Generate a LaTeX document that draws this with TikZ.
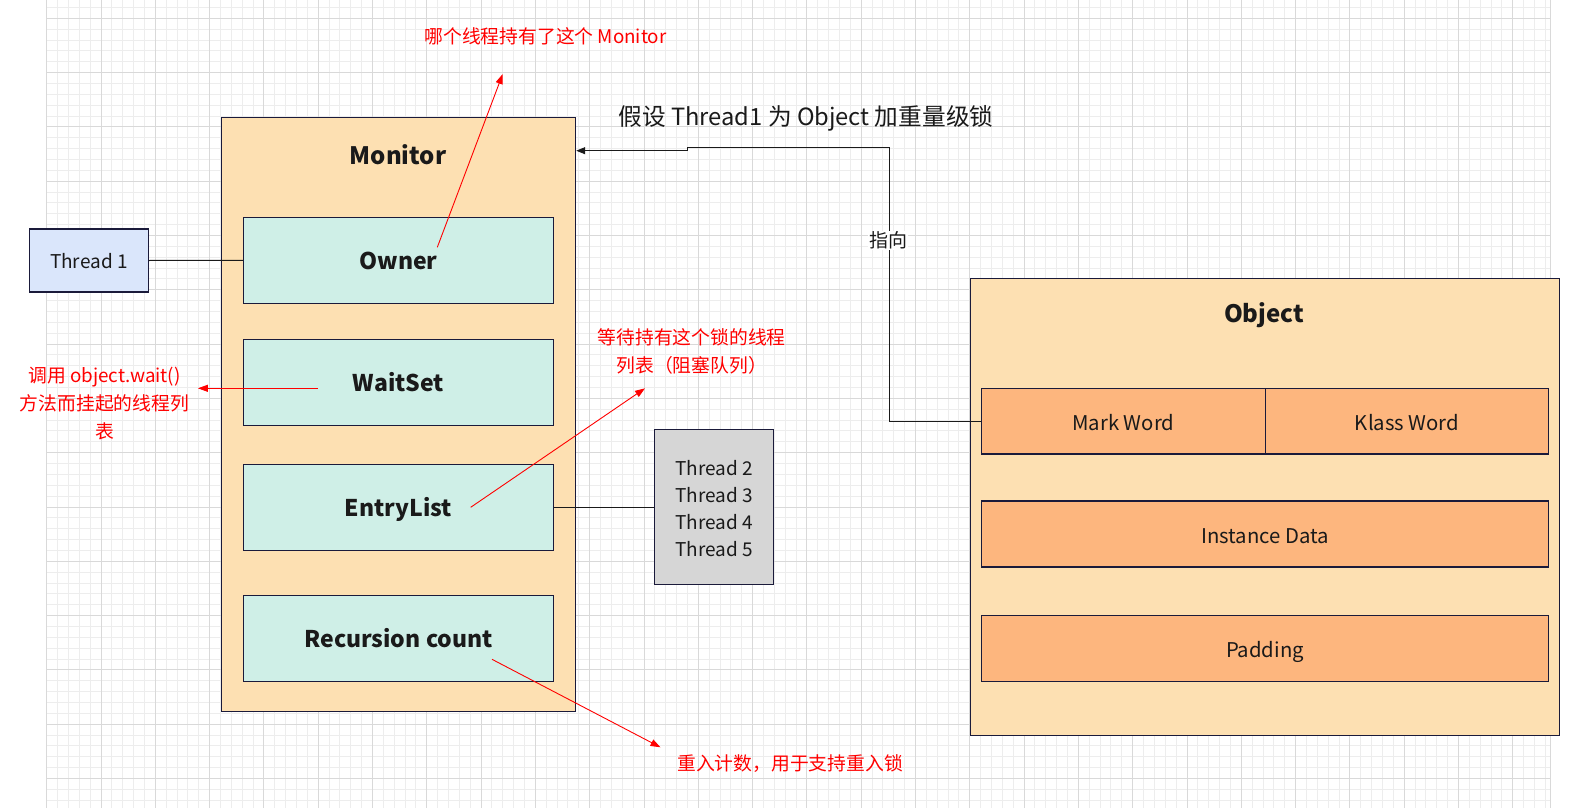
\documentclass[tikz,border=0pt]{standalone}
\usepackage{fontspec}
\setmainfont{Noto Sans CJK SC}
\usetikzlibrary{arrows.meta}
\definecolor{peach}{HTML}{FDE0B2}
\definecolor{mint}{HTML}{CFEFE7}
\definecolor{orng}{HTML}{FDB67E}
\definecolor{lblue}{HTML}{DAE6FB}
\definecolor{lgray}{HTML}{D6D6D6}
\definecolor{navy}{HTML}{1A1A3A}
\definecolor{ink}{HTML}{1A1A1A}
\definecolor{gminor}{HTML}{EDEDED}
\definecolor{gmajor}{HTML}{D9D9D9}
\definecolor{rd}{HTML}{FF0000}
\newcommand{\fsz}[1]{\fontsize{#1}{#1}\selectfont}
\tikzset{
  minorg/.style={draw=gminor, line width=1pt},
  majorg/.style={draw=gmajor, line width=1pt},
  container/.style={draw=navy, fill=peach, line width=1.2pt, inner sep=0pt},
  cell/.style={draw=navy, fill=mint, line width=1.2pt, inner sep=0pt, text=ink, font=\fsz{23}\bfseries, text height=17.4pt, text depth=0pt},
  ocell/.style={draw=navy, fill=orng, line width=1.2pt, inner sep=0pt, text=ink, font=\fsz{20.3}, text height=18.8pt, text depth=0pt},
  heading/.style={inner sep=0pt, text=ink, font=\fsz{24}\bfseries, anchor=base},
  conn/.style={draw=ink, line width=1pt},
  redarr/.style={draw=rd, line width=0.9pt, -{Triangle[length=10pt,width=7pt]}},
  redtxt/.style={inner sep=0pt, text=rd, font=\fsz{18.8}, align=center}
}
\begin{document}
\begin{tikzpicture}[x=1pt,y=-1pt]
\useasboundingbox (0,0) rectangle (1591,808);
% background grid
\foreach \i in {0,...,138} \draw[minorg] ({46.7+10.86*\i},0) -- ({46.7+10.86*\i},808);
\foreach \j in {-1,...,72} \draw[minorg] (46.7,{18.3+10.86*\j}) -- (1550,{18.3+10.86*\j});
\foreach \i in {0,...,27} \draw[majorg] ({46.7+54.3*\i},0) -- ({46.7+54.3*\i},808);
\foreach \j in {0,...,14} \draw[majorg] (46.7,{18.3+54.3*\j}) -- (1550,{18.3+54.3*\j});
\draw[majorg] (1550,0) -- (1550,808);

% Monitor
\node[container, minimum width=354.1pt, minimum height=594pt] (monitor) at (398.55,414.3) {};
\node[heading] (monlbl) at (398,164.3) {Monitor};
\node[cell, minimum width=310pt, minimum height=86pt] (owner) at (398.5,260.3) {Owner};
\node[cell, minimum width=310pt, minimum height=86pt] (waitset) at (398.5,382.3) {WaitSet};
\node[cell, minimum width=310pt, minimum height=86pt] (entry) at (398.5,507.3) {EntryList};
\node[cell, minimum width=310pt, minimum height=86pt] (recur) at (398.5,638.3) {Recursion count};

% threads
\node[draw=navy, fill=lblue, line width=1.2pt, inner sep=0pt, minimum width=119pt, minimum height=63pt, text=ink, font=\fsz{19}, text height=16.4pt, text depth=0pt] (t1) at (88.8,260.5) {Thread 1};
\node[draw=navy, fill=lgray, line width=1.2pt, inner sep=0pt, minimum width=118.6pt, minimum height=155pt] (threads) at (714,506.8) {};
\node[inner sep=0pt, text=ink, font=\fontsize{19}{27.3}\selectfont, align=center] (threadtxt) at (714,508.6) {Thread 2\\Thread 3\\Thread 4\\Thread 5};

% Object
\node[container, minimum width=589.4pt, minimum height=457pt] (object) at (1265,506.8) {};
\node[heading] (objlbl) at (1264,322.7) {Object};
\node[ocell, minimum width=284pt, minimum height=65.7pt] (mark) at (1123.3,421.2) {Mark Word};
\node[ocell, minimum width=283.4pt, minimum height=65.7pt] (klass) at (1407,421.2) {Klass Word};
\node[ocell, minimum width=567.4pt, minimum height=66pt] (inst) at (1265,534) {Instance Data};
\node[ocell, minimum width=567.4pt, minimum height=66pt] (pad) at (1265,648.2) {Padding};

% connectors
\draw[conn] (t1.east) -- (owner.west);
\draw[conn] (entry.east) -- (entry.east -| threads.west);
\coordinate (p1) at (889,147.3);
\coordinate (p2) at (687,147.3);
\coordinate (p3) at (687,150.7);
\draw[conn, -{Triangle[length=9pt,width=7pt]}] (mark.west) -| (p1) -- (p2) -- (p3) -- (monitor.east |- p3);
\node[fill=white, inner sep=1pt, text=ink, font=\fsz{19}] (ptlbl) at (888.3,240.5) {指向};

% title
\node[inner sep=0pt, text=ink, font=\fsz{23.7}, anchor=base] (title) at (806,125) {假设 Thread1 为 Object 加重量级锁};

% red annotations
\node[redtxt] (n1) at (545.5,36.7) {哪个线程持有了这个 Monitor};
\coordinate (a1s) at (437.3,247.3);
\coordinate (a1e) at (502.7,74);
\draw[redarr] (a1s) -- (a1e);

\node[redtxt, font=\fontsize{18.8}{28}\selectfont] (n2) at (104.5,404) {调用 object.wait()\\方法而挂起的线程列\\表};
\coordinate (a2s) at (317.6,388.3);
\coordinate (a2e) at (197.9,388.3);
\draw[redarr] (a2s) -- (a2e);

\node[redtxt, font=\fontsize{18.8}{27.3}\selectfont] (n3) at (691.7,351.3) {等待持有这个锁的线程\\列表（阻塞队列）};
\coordinate (a3s) at (470.7,507.3);
\coordinate (a3e) at (645,388.3);
\draw[redarr] (a3s) -- (a3e);

\node[redtxt] (n4) at (790,763.3) {重入计数，用于支持重入锁};
\coordinate (a4s) at (492,659.3);
\coordinate (a4e) at (660.5,747.3);
\draw[redarr] (a4s) -- (a4e);
\end{tikzpicture}
\end{document}
